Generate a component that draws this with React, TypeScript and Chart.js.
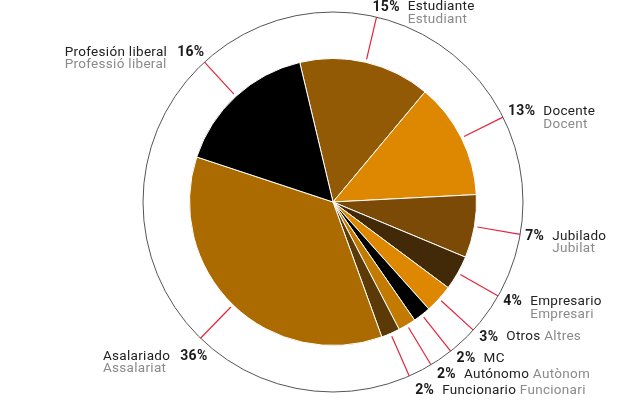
import React, { useEffect, useRef } from "react";
import { Chart, registerables } from "chart.js";

Chart.register(...registerables);

const categories = [
  "Estudiante",
  "Docente",
  "Jubilado",
  "Empresario",
  "Otros",
  "MC",
  "Autónomo",
  "Funcionario",
  "Asalariado",
  "Profesión liberal",
];
const categoriesCa = [
  "Estudiant",
  "Docent",
  "Jubilat",
  "Empresari",
  "Altres",
  "MC",
  "Autònom",
  "Funcionari",
  "Assalariat",
  "Professió liberal",
];
const values = [14.8, 13.1, 7.1, 3.9, 3.2, 2.0, 2.0, 2.1, 35.6, 16.2];
const sliceColors = [
  "#935a06",
  "#dd8800",
  "#7a4a06",
  "#422a08",
  "#dd8800",
  "#000000",
  "#c27b00",
  "#5c3a08",
  "#ac6b00",
  "#000000",
];

const START_ROTATION = -13.4;
const RING_RATIO = 190 / 143.5;
const FONT_FAMILY = "Roboto, 'Liberation Sans', sans-serif";
const PCT_FONT = `bold 14px ${FONT_FAMILY}`;
const NAME_FONT = `13.5px ${FONT_FAMILY}`;
const PCT_COLOR = "#1a1a1a";
const NAME_COLOR = "#222222";
const CA_COLOR = "#8a8a8a";
const LINE_COLOR = "#e4243b";
const RING_COLOR = "#555555";

const leaderPlugin = {
  id: "leaderLabels",
  afterDatasetsDraw(chart: any) {
    const ctx: CanvasRenderingContext2D = chart.ctx;
    const meta = chart.getDatasetMeta(0);
    const arcs = meta.data as any[];
    if (!arcs.length) return;
    const cx = arcs[0].x;
    const cy = arcs[0].y;
    const r = arcs[0].outerRadius;
    const ringR = r * RING_RATIO;

    ctx.save();
    ctx.lineWidth = 1;
    ctx.strokeStyle = RING_COLOR;
    ctx.beginPath();
    ctx.arc(cx, cy, ringR, 0, Math.PI * 2);
    ctx.stroke();

    (ctx as any).letterSpacing = "0.3px";
    ctx.textBaseline = "middle";
    const lineGap = 12.5;
    let prevInlineY = -Infinity;

    arcs.forEach((arc, i) => {
      const mid = (arc.startAngle + arc.endAngle) / 2;
      const c = Math.cos(mid);
      const s = Math.sin(mid);
      ctx.strokeStyle = LINE_COLOR;
      ctx.lineWidth = 1.2;
      ctx.beginPath();
      ctx.moveTo(cx + c * (r + 3), cy + s * (r + 3));
      ctx.lineTo(cx + c * ringR, cy + s * ringR);
      ctx.stroke();

      const ex = cx + c * ringR;
      const ey = cy + s * ringR;
      let deg = ((mid * 180) / Math.PI + 90) % 360;
      if (deg < 0) deg += 360;
      const cosA = Math.cos((deg * Math.PI) / 180);

      const pct = `${Math.round(values[i])}%`;
      const name = categories[i];
      const ca = categoriesCa[i];

      ctx.font = PCT_FONT;
      const pctW = ctx.measureText(pct).width;
      ctx.font = NAME_FONT;
      const nameW = ctx.measureText(name).width;
      const spaceW = ctx.measureText(" ").width;

      if (deg < 130) {
        const top = deg < 30;
        const x = top ? ex - 4 : ex + 5;
        const y1 = ey - (top ? 10.3 : 12) * cosA;
        ctx.textAlign = "left";
        ctx.font = PCT_FONT;
        ctx.fillStyle = PCT_COLOR;
        ctx.fillText(pct, x, y1);
        const nx = x + pctW + 8;
        ctx.font = NAME_FONT;
        ctx.fillStyle = NAME_COLOR;
        ctx.fillText(name, nx, y1);
        ctx.fillStyle = CA_COLOR;
        ctx.fillText(ca, nx, y1 + lineGap);
      } else if (deg < 180) {
        const y = Math.max(ey + 7, prevInlineY + 16);
        prevInlineY = y;
        const x = ex + 6;
        ctx.textAlign = "left";
        ctx.font = PCT_FONT;
        ctx.fillStyle = PCT_COLOR;
        ctx.fillText(pct, x, y);
        const nx = x + pctW + 8;
        ctx.font = NAME_FONT;
        ctx.fillStyle = NAME_COLOR;
        ctx.fillText(name, nx, y);
        if (ca !== name) {
          ctx.fillStyle = CA_COLOR;
          ctx.fillText(ca, nx + nameW + spaceW, y);
        }
      } else {
        const lower = cosA < 0;
        const right = ex + (lower ? 7 : 0);
        const y1 = ey - (lower ? 25 : 13) * cosA;
        ctx.textAlign = "left";
        ctx.font = PCT_FONT;
        ctx.fillStyle = PCT_COLOR;
        ctx.fillText(pct, right - pctW, y1);
        const x0 = right - pctW - 10 - nameW;
        ctx.font = NAME_FONT;
        ctx.fillStyle = NAME_COLOR;
        ctx.fillText(name, x0, y1);
        ctx.fillStyle = CA_COLOR;
        ctx.fillText(ca, x0, y1 + lineGap);
      }
    });
    ctx.restore();
  },
};

export default function App() {
  const canvasRef = useRef<HTMLCanvasElement | null>(null);

  useEffect(() => {
    if (!canvasRef.current) return;
    const chart = new Chart(canvasRef.current, {
      type: "pie",
      data: {
        labels: categories,
        datasets: [
          {
            data: values,
            backgroundColor: sliceColors,
            borderColor: "#ffffff",
            borderWidth: 1,
          },
        ],
      },
      options: {
        responsive: false,
        animation: false,
        rotation: START_ROTATION,
        layout: {
          padding: { top: 58, bottom: 71, left: 189, right: 149 },
        },
        plugins: {
          legend: { display: false },
          tooltip: { enabled: false },
        },
      },
      plugins: [leaderPlugin],
    });
    return () => chart.destroy();
  }, []);

  return (
    <div
      style={{
        position: "fixed",
        left: 0,
        top: 0,
        width: 626,
        height: 417,
        background: "#ffffff",
      }}
    >
      <canvas ref={canvasRef} width={626} height={417} />
    </div>
  );
}
